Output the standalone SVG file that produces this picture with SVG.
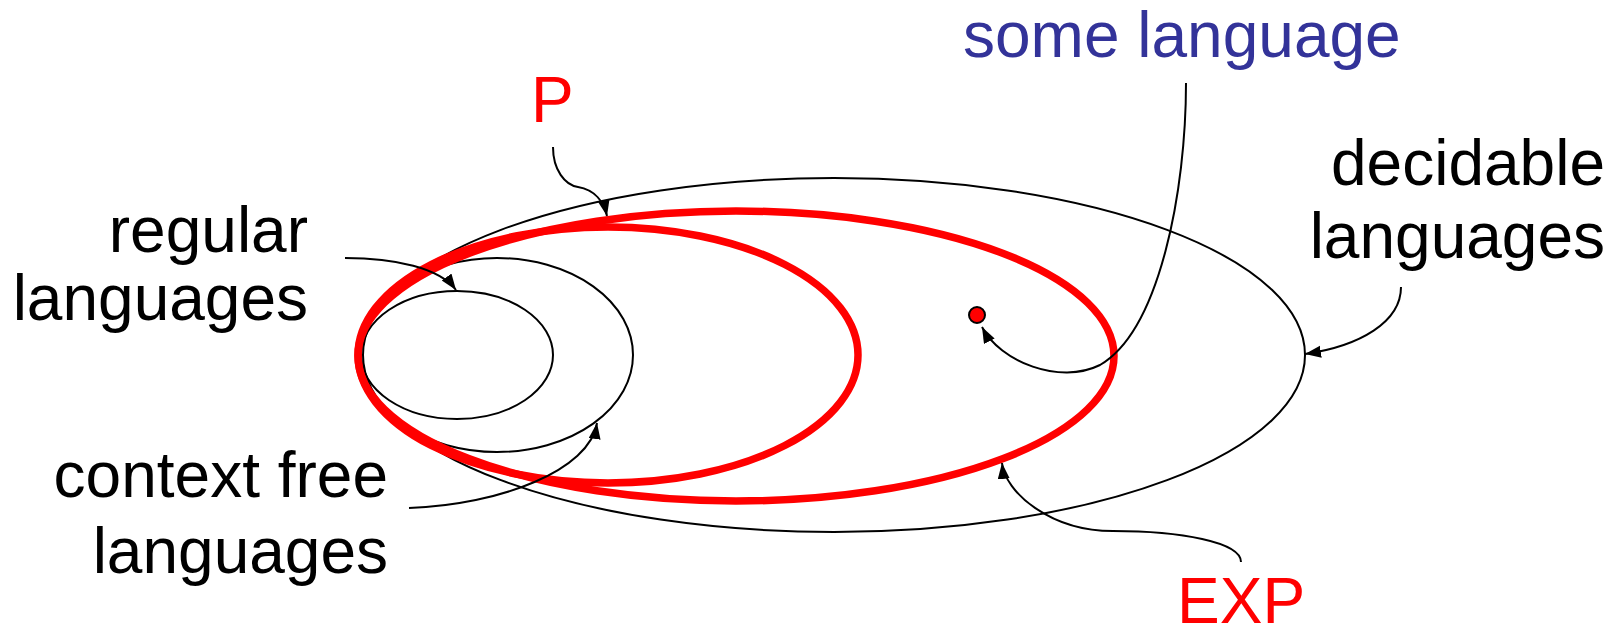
<svg xmlns="http://www.w3.org/2000/svg" width="1620" height="637" viewBox="0 0 1620 637">
<style>
.set{fill:none;stroke:#000;stroke-width:2}
.cls{fill:none;stroke:#ff0000;stroke-width:7.5}
.lbl{font-family:"Liberation Sans",Arial,sans-serif;font-size:64px;fill:#000}
.red{fill:#ff0000}
.blue{fill:#333399}
.con{fill:none;stroke:#000;stroke-width:2}
</style>
<defs>
<marker id="ah" markerUnits="userSpaceOnUse" markerWidth="18" markerHeight="14" refX="16" refY="6" orient="auto">
<path d="M0,0 L16,6 L0,12 z" fill="#000"/>
</marker>
</defs>
<rect width="1620" height="637" fill="#fff"/>
<g id="decidable">
<ellipse class="set" cx="834" cy="355" rx="471" ry="177"/>
<text class="lbl" x="1605" y="185" text-anchor="end">decidable</text>
<text class="lbl" x="1605" y="258" text-anchor="end">languages</text>
</g>
<g id="context-free">
<ellipse class="set" cx="497" cy="355" rx="136" ry="97"/>
<text class="lbl" x="388" y="497" text-anchor="end">context free</text>
<text class="lbl" x="388" y="573" text-anchor="end">languages</text>
</g>
<g id="regular">
<ellipse class="set" cx="457" cy="355" rx="96" ry="64"/>
<text class="lbl" x="308" y="252" text-anchor="end">regular</text>
<text class="lbl" x="308" y="320" text-anchor="end">languages</text>
</g>
<g id="EXP">
<ellipse class="cls" cx="736" cy="356" rx="378" ry="145"/>
<text class="lbl red" x="1177" y="623">EXP</text>
</g>
<g id="P">
<ellipse class="cls" cx="608" cy="355" rx="250" ry="128"/>
<text class="lbl red" x="531" y="122">P</text>
</g>
<g id="some-language">
<circle cx="977" cy="315" r="8" fill="#ff0000" stroke="#000" stroke-width="2"/>
<text class="lbl blue" x="963" y="57">some language</text>
</g>
<g id="connectors">
<path class="con" marker-end="url(#ah)" d="M553,147 C553,170 565,185 578,187 C595,190 604,202 607,216"/>
<path class="con" marker-end="url(#ah)" d="M345,258 C395,258 440,268 456,290"/>
<path class="con" marker-end="url(#ah)" d="M409,508 C500,505 590,470 597,423"/>
<path class="con" marker-end="url(#ah)" d="M1186,83 C1186,190 1160,330 1100,365 C1060,385 1000,362 982,327"/>
<path class="con" marker-end="url(#ah)" d="M1241,562 C1241,542 1180,531 1113,531 C1050,531 1005,492 1002,463"/>
<path class="con" marker-end="url(#ah)" d="M1401,287 C1401,322 1360,346 1305,354"/>
</g>
</svg>
